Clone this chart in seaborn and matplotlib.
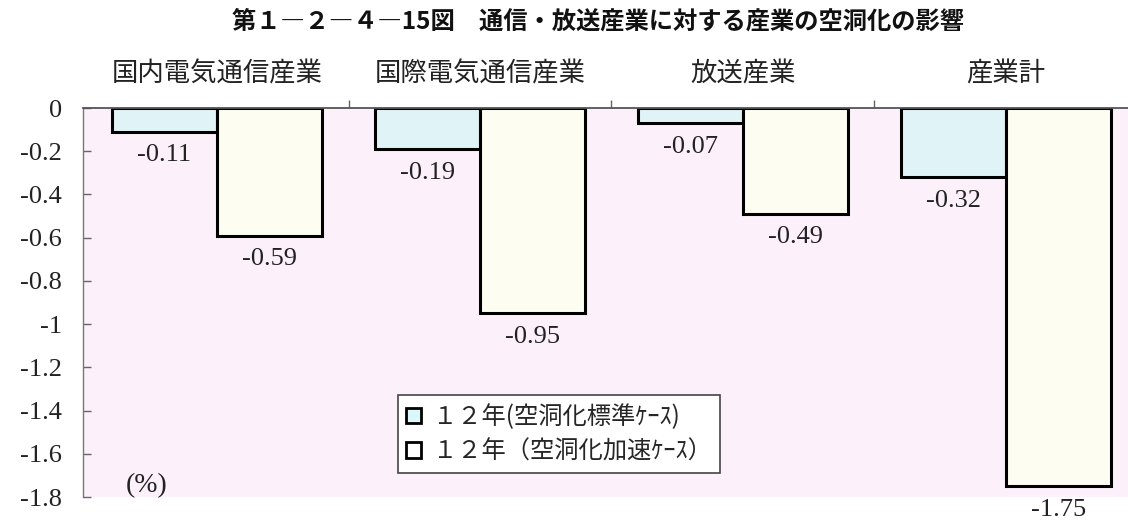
import matplotlib
matplotlib.use("Agg")
import matplotlib.pyplot as plt
from matplotlib.patches import Patch
import pandas as pd
import seaborn as sns

# Industries and the two hollowing-out scenarios (year 12)
industries = ["国内電気通信産業", "国際電気通信産業", "放送産業", "産業計"]
cases = ["１２年(空洞化標準ｹｰｽ)", "１２年（空洞化加速ｹｰｽ）"]
standard_case = [-0.11, -0.19, -0.07, -0.32]
accelerated_case = [-0.59, -0.95, -0.49, -1.75]
y_ticks = [0, -0.2, -0.4, -0.6, -0.8, -1, -1.2, -1.4, -1.6, -1.8]
y_tick_labels = ["0", "-0.2", "-0.4", "-0.6", "-0.8", "-1", "-1.2", "-1.4", "-1.6", "-1.8"]

df = pd.DataFrame({
    "industry": industries * 2,
    "case": [cases[0]] * len(industries) + [cases[1]] * len(industries),
    "value": standard_case + accelerated_case,
})

sns.set_theme(style="white")
plt.rcParams["font.family"] = ["Noto Sans CJK JP", "DejaVu Sans"]
plt.rcParams["axes.unicode_minus"] = False

BLUE = "#dcf7fb"
IVORY = "#fffff0"
PINK = "#fcf0fa"
NUM_FONT = "Liberation Serif"

fig = plt.figure(figsize=(11.28, 5.22), dpi=100)
ax = fig.add_axes([83 / 1128, 25 / 522, 1045 / 1128, 389 / 522])
ax.set_facecolor(PINK)

sns.barplot(data=df, x="industry", y="value", hue="case", order=industries,
            hue_order=cases, palette=[BLUE, IVORY], edgecolor="black",
            linewidth=2.2, width=0.8, ax=ax, legend=False)

ax.set_ylim(-1.8, 0)
ax.set_xlim(-0.51, 3.465)
ax.set_xlabel("")
ax.set_ylabel("")

# value labels under the end of each bar
for container in ax.containers:
    for bar in container:
        end = min(bar.get_y(), bar.get_y() + bar.get_height())
        x = bar.get_x() + bar.get_width() / 2
        ax.annotate(f"{end:.2f}", xy=(x, end), xytext=(0, -9),
                    textcoords="offset points", ha="center", va="top",
                    fontsize=19, family=NUM_FONT, color="#222222")

# y axis
ax.set_yticks(y_ticks)
ax.set_yticklabels(y_tick_labels, family=NUM_FONT, fontsize=19,
                   color="#222222")
ax.tick_params(axis="y", which="major", direction="in", length=6, width=1,
               color="#666666", pad=15, left=True)

# category names on top, separators between groups
ax.xaxis.tick_top()
ax.set_xticks(range(len(industries)))
ax.set_xticklabels(industries, fontsize=19, color="#222222")
ax.set_xticks([0.5, 1.5, 2.5], minor=True)
ax.tick_params(axis="x", which="major", length=0, pad=15, top=True, bottom=False)
ax.tick_params(axis="x", which="minor", length=6, width=1, color="#666666",
               direction="out", top=True, bottom=False)

for side in ["right", "bottom"]:
    ax.spines[side].set_visible(False)
ax.spines["top"].set_color("#555555")
ax.spines["top"].set_linewidth(1.3)
ax.spines["left"].set_color("#777777")
ax.spines["left"].set_linewidth(1.0)

ax.text(0.061, 0.03, "(%)", transform=ax.transAxes, ha="center", va="center",
        fontsize=20, family=NUM_FONT, color="#222222")

handles = [Patch(facecolor=BLUE, edgecolor="black", linewidth=2),
           Patch(facecolor="white", edgecolor="black", linewidth=2)]
leg = ax.legend(handles, cases, loc="lower left", bbox_to_anchor=(0.301, 0.062),
                fontsize=17.5, frameon=True, fancybox=False, handlelength=0.6,
                handleheight=0.6, handletextpad=0.5, borderpad=0.35,
                labelspacing=0.35, borderaxespad=0)
leg.get_frame().set_edgecolor("#444444")
leg.get_frame().set_linewidth(1.2)
leg.get_frame().set_facecolor("white")
leg.get_frame().set_alpha(1)

fig.text(0.53, 0.958, "第１―２―４―15図　通信・放送産業に対する産業の空洞化の影響",
         ha="center", va="center", fontsize=17.5, fontweight="bold", color="#111111")

fig.savefig("out.png", dpi=100)
